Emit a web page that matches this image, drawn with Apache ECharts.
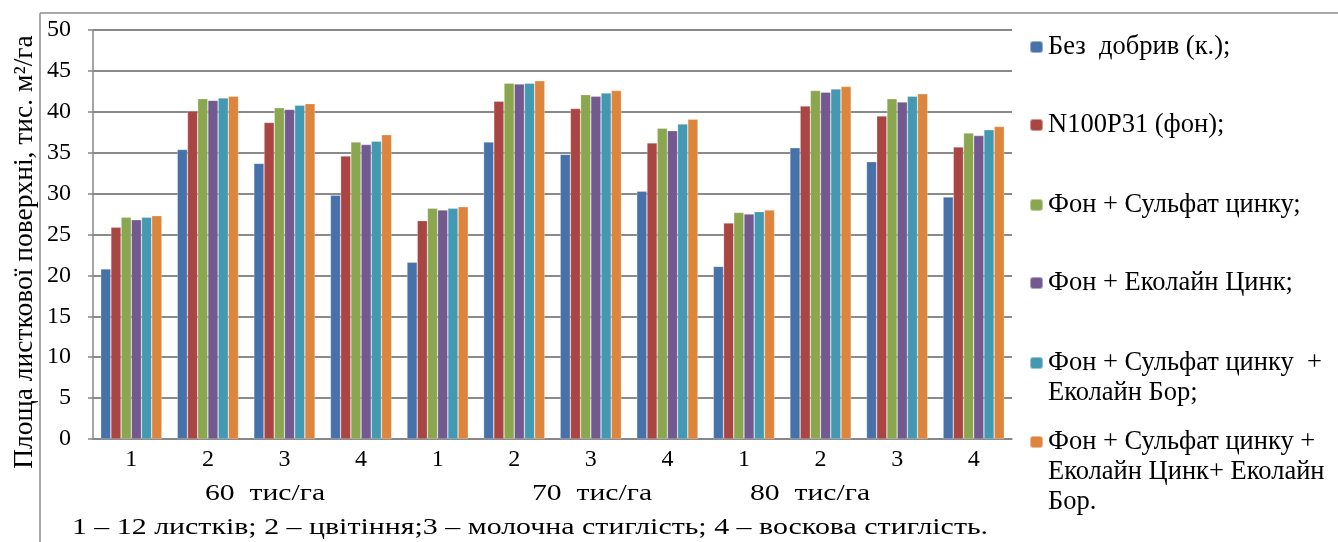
<!DOCTYPE html>
<html>
<head>
<meta charset="utf-8">
<script src="https://cdn.jsdelivr.net/npm/echarts@6/dist/echarts.min.js"></script>
<style>
  html, body { margin: 0; padding: 0; background: #fff; }
  #chart { width: 1338px; height: 542px; }
</style>
</head>
<body>
<div id="chart"></div>
<script>
const categories = ['1', '2', '3', '4', '1', '2', '3', '4', '1', '2', '3', '4'];
const seriesNames = [
  'Без  добрив (к.);',
  'N100P31 (фон);',
  'Фон + Сульфат цинку;',
  'Фон + Еколайн Цинк;',
  'Фон + Сульфат цинку  +\nЕколайн Бор;',
  'Фон + Сульфат цинку +\nЕколайн Цинк+ Еколайн\nБор.'
];
const bezDobryv   = [20.8, 35.4, 33.7, 29.8, 21.6, 36.3, 34.8, 30.3, 21.1, 35.6, 33.9, 29.6];
const fon         = [25.9, 40.1, 38.7, 34.6, 26.7, 41.3, 40.4, 36.2, 26.4, 40.7, 39.5, 35.7];
const sulfatZn    = [27.1, 41.6, 40.5, 36.3, 28.2, 43.5, 42.1, 38.0, 27.7, 42.6, 41.6, 37.4];
const ekolainZn   = [26.8, 41.4, 40.3, 36.0, 28.0, 43.4, 41.9, 37.7, 27.5, 42.4, 41.2, 37.1];
const sulfatZnB   = [27.1, 41.7, 40.8, 36.4, 28.2, 43.5, 42.3, 38.5, 27.8, 42.8, 41.9, 37.8];
const sulfatZnZnB = [27.3, 41.9, 41.0, 37.2, 28.4, 43.8, 42.6, 39.1, 28.0, 43.1, 42.2, 38.2];
const yTicks = [0, 5, 10, 15, 20, 25, 30, 35, 40, 45, 50];
const densityLabels = ['60  тис/га', '70  тис/га', '80  тис/га'];
const yTitle = 'Площа листкової поверхні, тис. м²/га';
const caption = '1 – 12 листків; 2 – цвітіння;3 – молочна стиглість; 4 – воскова стиглість.';

const allValues = [bezDobryv, fon, sulfatZn, ekolainZn, sulfatZnB, sulfatZnZnB];
const colors = ['#4672A9', '#A94543', '#8AA64E', '#72598F', '#4299B1', '#DD843D'];
const FONT = '"Liberation Serif", "Times New Roman", serif';

const chart = echarts.init(document.getElementById('chart'), null, { renderer: 'canvas' });

// legend icon centres (px) : 47, 125, 205, 283, 363, 442 ; line height 30
const legendIconY = [47, 125, 205, 283, 363, 442];

const option = {
  animation: false,
  backgroundColor: '#ffffff',
  color: colors,
  grid: { left: 93, right: 326, top: 30, bottom: 103, containLabel: false },
  xAxis: {
    type: 'category',
    data: categories,
    axisLine: { show: true, lineStyle: { color: '#868686', width: 1.5 } },
    axisTick: { show: false },
    axisLabel: { color: '#000', fontFamily: FONT, fontSize: 24, margin: 9 }
  },
  yAxis: {
    type: 'value',
    min: yTicks[0], max: yTicks[yTicks.length - 1], interval: 5,
    axisLine: { show: true, lineStyle: { color: '#868686', width: 1.5 } },
    axisTick: { show: true, length: 5, lineStyle: { color: '#868686', width: 1.5 } },
    axisLabel: { color: '#000', fontFamily: FONT, fontSize: 24, margin: 22 },
    splitLine: { show: true, lineStyle: { color: '#8a8a8a', width: 2 } }
  },
  legend: seriesNames.map((n, i) => {
    const lines = n.split('\n').length;
    const total = 2 * lines - 1;
    return {
      data: [n],
      orient: 'vertical',
      left: 1029,
      top: legendIconY[i] - total * 15,
      padding: 0,
      itemWidth: 13,
      itemHeight: 12,
      itemGap: 0,
      formatter: (name) => '\n'.repeat(lines - 1) + name,
      textStyle: { color: '#000', fontFamily: FONT, fontSize: 26.5, lineHeight: 30 }
    };
  }),
  series: allValues.map((vals, i) => ({
    name: seriesNames[i],
    type: 'bar',
    data: vals,
    barGap: '0%',
    barCategoryGap: '20%',
    itemStyle: { color: colors[i], borderColor: 'rgba(255,255,255,0.45)', borderWidth: 0.6 }
  })),
  graphic: [
    { type: 'line', shape: { x1: 40, y1: 13, x2: 40, y2: 542 }, style: { stroke: '#8c8c8c', lineWidth: 1.5 }, silent: true },
    { type: 'line', shape: { x1: 40, y1: 13, x2: 1338, y2: 13 }, style: { stroke: '#8c8c8c', lineWidth: 1.5 }, silent: true },
    { type: 'text', x: 25, y: 252, rotation: Math.PI / 2,
      style: { text: yTitle, fontFamily: FONT, fontSize: 27.5, fill: '#000', align: 'center', verticalAlign: 'middle' } },
    { type: 'text', x: 265, y: 494, scaleX: 1.29, style: { text: densityLabels[0], fontFamily: FONT, fontSize: 23, fill: '#000', align: 'center', verticalAlign: 'middle' } },
    { type: 'text', x: 592, y: 494, scaleX: 1.29, style: { text: densityLabels[1], fontFamily: FONT, fontSize: 23, fill: '#000', align: 'center', verticalAlign: 'middle' } },
    { type: 'text', x: 810, y: 494, scaleX: 1.29, style: { text: densityLabels[2], fontFamily: FONT, fontSize: 23, fill: '#000', align: 'center', verticalAlign: 'middle' } },
    { type: 'text', x: 530, y: 528, scaleX: 1.3, style: { text: caption, fontFamily: FONT, fontSize: 23, fill: '#000', align: 'center', verticalAlign: 'middle' } }
  ]
};
chart.setOption(option);
</script>
</body>
</html>
